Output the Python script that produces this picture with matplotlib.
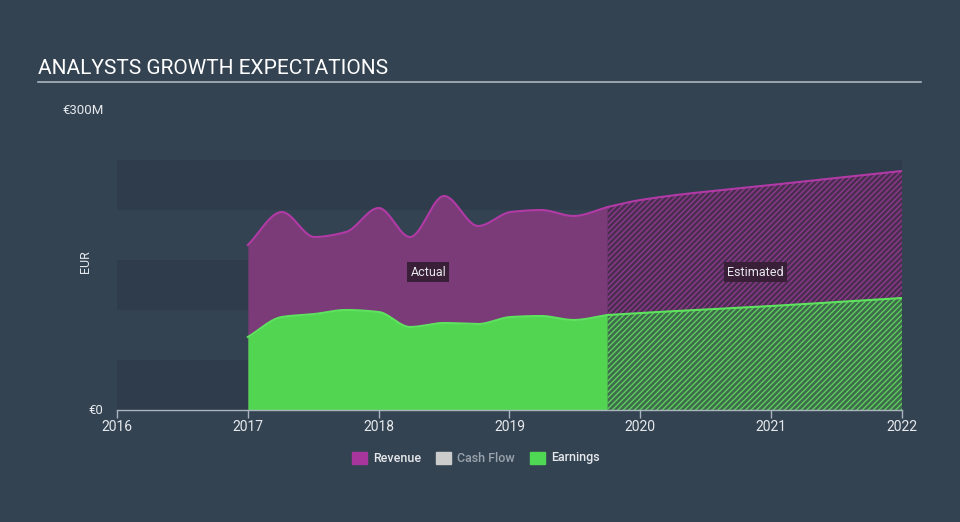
import numpy as np
import matplotlib
matplotlib.use('Agg')
import matplotlib.pyplot as plt

plt.rcParams['font.family'] = ['Roboto', 'DejaVu Sans']
plt.rcParams['hatch.linewidth'] = 1.0

# actual values (EUR millions)
actual_years = [2017.0, 2017.26, 2017.51, 2017.75, 2018.0, 2018.24, 2018.5,
                2018.76, 2019.01, 2019.24, 2019.49, 2019.75]
actual_revenue = [165, 198, 173, 178, 202, 173, 214, 184, 198, 200, 194, 203]
actual_earnings = [73, 93, 96, 100, 98, 83, 87, 86, 93, 94, 90, 95]

# analyst estimates
est_years = [2019.75, 2020.0, 2021.0, 2022.0]
est_revenue = [203, 210, 225, 239]
est_earnings = [95, 97, 104, 112]

tick_years = [2016, 2017, 2018, 2019, 2020, 2021, 2022]

BG = '#344352'
BAND = '#2f3c4b'
REV_FILL = '#7b3a78'
REV_LINE = '#b13aa6'
EARN_FILL = '#52d652'
EARN_LINE = '#5ee35e'
TXT = '#e6e9ec'


def monotone(x, y, n=400):
    # monotone cubic (like d3 curveMonotoneX) for smooth area edges
    x = np.asarray(x, float)
    y = np.asarray(y, float)
    h = np.diff(x)
    d = np.diff(y) / h
    m = np.zeros_like(y)
    m[0], m[-1] = d[0], d[-1]
    for i in range(1, len(y) - 1):
        if d[i - 1] * d[i] <= 0:
            m[i] = 0
        else:
            w1 = 2 * h[i] + h[i - 1]
            w2 = h[i] + 2 * h[i - 1]
            m[i] = (w1 + w2) / (w1 / d[i - 1] + w2 / d[i])
    xs = np.linspace(x[0], x[-1], n)
    idx = np.clip(np.searchsorted(x, xs) - 1, 0, len(x) - 2)
    t = (xs - x[idx]) / h[idx]
    h00 = 2 * t**3 - 3 * t**2 + 1
    h10 = t**3 - 2 * t**2 + t
    h01 = -2 * t**3 + 3 * t**2
    h11 = t**3 - t**2
    ys = h00 * y[idx] + h10 * h[idx] * m[idx] + h01 * y[idx + 1] + h11 * h[idx] * m[idx + 1]
    return xs, ys


fig = plt.figure(figsize=(9.6, 5.22), dpi=100)
fig.patch.set_facecolor(BG)
ax = fig.add_axes([117 / 960, (522 - 410) / 522, (902 - 117) / 960, 300 / 522])
ax.set_facecolor(BG)
ax.set_xlim(2016, 2022)
ax.set_ylim(0, 300)

# alternating background bands
for lo in [0, 100, 200]:
    ax.axhspan(lo, lo + 50, color=BAND, lw=0, zorder=0)

# actual part
xr, yr = monotone(actual_years, actual_revenue)
xe, ye = monotone(actual_years, actual_earnings)
ax.fill_between(xr, 0, yr, color=REV_FILL, lw=0, zorder=1)
ax.plot(xr, yr, color=REV_LINE, lw=1.5, zorder=3)
ax.fill_between(xe, 0, ye, color=EARN_FILL, lw=0, zorder=2)
ax.plot(xe, ye, color=EARN_LINE, lw=1.5, zorder=3)

# estimated part (hatched)
xr2, yr2 = monotone(est_years, est_revenue)
xe2, ye2 = monotone(est_years, est_earnings)
ax.fill_between(xr2, 0, yr2, facecolor='#4b2d52', edgecolor='#8c3a8a',
                hatch='//////', lw=0, zorder=1)
ax.plot(xr2, yr2, color=REV_LINE, lw=1.5, zorder=3)
ax.fill_between(xe2, 0, ye2, facecolor='#3e6b4c', edgecolor='#5ccc5c',
                hatch='//////', lw=0, zorder=2)
ax.plot(xe2, ye2, color=EARN_LINE, lw=1.5, zorder=3)

box = dict(boxstyle='square,pad=0.25', fc='#3a1f38', ec='none')
ax.text(2018.38, 138, 'Actual', color=TXT, fontsize=9, ha='center', va='center', bbox=box, zorder=5)
ax.text(2020.88, 138, 'Estimated', color=TXT, fontsize=9, ha='center', va='center', bbox=box, zorder=5)

# axes styling
for s in ['top', 'right', 'left']:
    ax.spines[s].set_visible(False)
ax.spines['bottom'].set_color('#aab4be')
ax.spines['bottom'].set_linewidth(1)
ax.set_yticks([])
ax.set_xticks(tick_years)
ax.set_xticklabels([str(y) for y in tick_years])
ax.tick_params(axis='x', colors='#aab4be', length=6, width=1, labelcolor=TXT,
               labelsize=10, pad=1)

fig.text(62 / 960, 1 - 110 / 522, '€300M', color=TXT, fontsize=9.5, va='center', ha='left')
fig.text(103 / 960, 1 - 410 / 522, '€0', color=TXT, fontsize=9.5, va='center', ha='right')
fig.text(85 / 960, 1 - 262 / 522, 'EUR', color=TXT, fontsize=9, va='center', ha='center', rotation=90)

# title and rule
fig.text(38 / 960, 1 - 69 / 522, 'ANALYSTS GROWTH EXPECTATIONS', color='white', fontsize=15,
         va='center', ha='left')
fig.add_artist(plt.Line2D([38 / 960, 921 / 960], [1 - 82 / 522, 1 - 82 / 522],
                          color='#aab4be', lw=1.2))

# legend
legend_items = [('Revenue', '#a8359c', TXT), ('Cash Flow', '#cccccc', '#9aa3ac'),
                ('Earnings', '#4fd853', TXT)]
lx = [352, 436, 530]
for (name, col, tc), x0 in zip(legend_items, lx):
    fig.patches.append(plt.Rectangle((x0 / 960, 1 - 464 / 522), 15 / 960, 12 / 522,
                                     transform=fig.transFigure, color=col, figure=fig))
    fig.text((x0 + 21) / 960, 1 - 458 / 522, name, color=tc, fontsize=9, va='center', ha='left',
             fontweight='medium')

fig.savefig('out.png', dpi=100, facecolor=BG)
